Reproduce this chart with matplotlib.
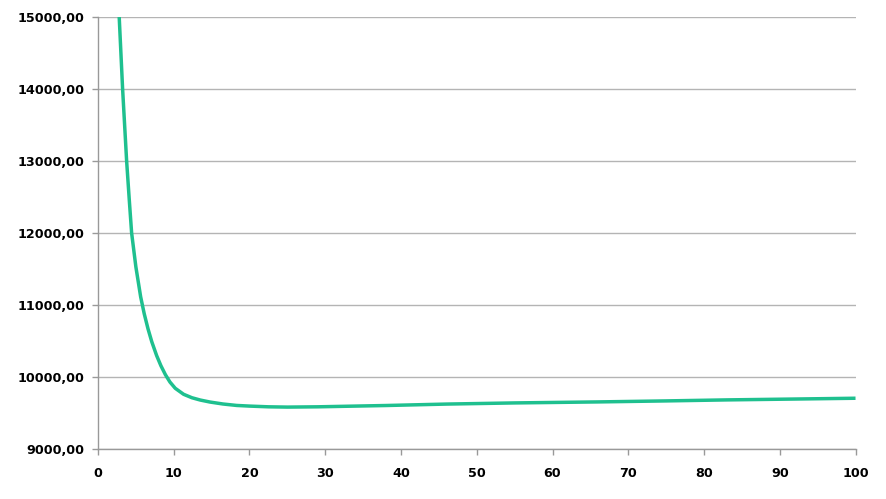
import matplotlib
matplotlib.use("Agg")
import matplotlib.pyplot as plt
from matplotlib.ticker import FuncFormatter

x_vals = [2.8, 3.25, 3.78, 4.13, 4.44, 5.0, 5.63, 6.1, 6.6, 7.1, 7.74, 8.3, 8.9, 9.5, 10.2,
          11.3, 12.4, 13.5, 14.8, 16.5, 18.3, 20, 22.5, 25, 29, 33, 38, 42, 46, 55, 66,
          75, 83, 92, 100]
y_vals = [15000, 14000, 13000, 12460, 12000, 11530, 11115, 10880, 10670, 10490, 10298,
          10158, 10032, 9930, 9843, 9760, 9712, 9680, 9652, 9625, 9605, 9596, 9586, 9582,
          9586, 9594, 9604, 9614, 9624, 9640, 9654, 9668, 9682, 9694, 9705]

x_ticks = [0, 10, 20, 30, 40, 50, 60, 70, 80, 90, 100]
y_ticks = [9000, 10000, 11000, 12000, 13000, 14000, 15000]

plt.rcParams['font.family'] = ['DejaVu Sans']

fig = plt.figure(figsize=(8.86, 4.99), dpi=100)
ax = fig.add_axes([0.1106, 0.1002, 0.855, 0.8657])

ax.plot(x_vals, y_vals, color='#1fc08f', linewidth=2.5, solid_capstyle='butt',
        solid_joinstyle='round', zorder=3)

ax.set_xlim(0, 100)
ax.set_ylim(9000, 15000)
ax.set_xticks(x_ticks)
ax.set_yticks(y_ticks)
ax.yaxis.set_major_formatter(FuncFormatter(lambda v, p: f"{v:.2f}".replace('.', ',')))

ax.grid(axis='y', color='#b4b4b4', linewidth=1.0, zorder=0)
ax.set_axisbelow(True)
for s in ['top', 'right']:
    ax.spines[s].set_visible(False)
for s in ['left', 'bottom']:
    ax.spines[s].set_color('#999999')
    ax.spines[s].set_linewidth(1.0)

ax.tick_params(axis='both', colors='#999999', length=4, width=1, direction='out',
               labelcolor='black', labelsize=9.2)
ax.tick_params(axis='x', pad=9)
ax.tick_params(axis='y', pad=6)
for lbl in ax.get_xticklabels() + ax.get_yticklabels():
    lbl.set_fontweight('bold')

fig.savefig('out.png', dpi=100)
